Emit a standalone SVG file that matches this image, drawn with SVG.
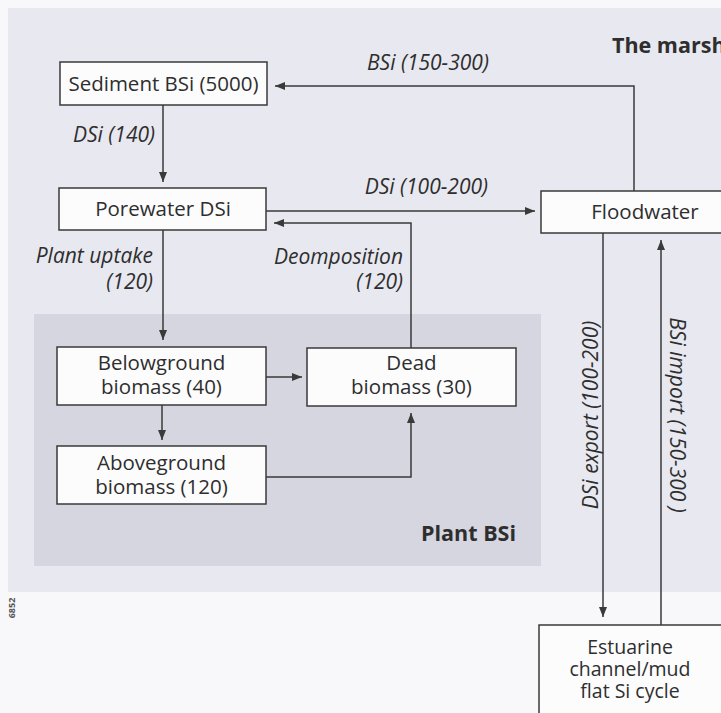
<svg xmlns="http://www.w3.org/2000/svg" width="721" height="713" viewBox="0 0 721 713">
<style>
.box{fill:#fcfcfd;stroke:#3a3a3a;stroke-width:1.5}
.t{font-family:"Open Sans","Noto Sans","Liberation Sans",sans-serif;font-size:20.5px;fill:#2e2e2e}
.c{text-anchor:middle}
.e{text-anchor:end}
.i{font-style:italic;font-size:21px}
.b{font-weight:bold;font-size:21.5px}
.s{font-size:19.5px}
.tiny{font-size:9px;font-weight:bold;fill:#555}
.conn path{fill:none;stroke:#3a3a3a;stroke-width:1.5;marker-end:url(#ah)}
</style>
<defs>
<marker id="ah" markerUnits="userSpaceOnUse" markerWidth="10" markerHeight="8" refX="10" refY="4" orient="auto">
<path d="M0,0 L10,4 L0,8 z" fill="#3a3a3a"/>
</marker>
</defs>
<rect x="0" y="0" width="721" height="713" fill="#f8f8fb"/>
<rect x="8" y="8" width="713" height="584" fill="#e8e8f0"/>
<g id="plant-bsi">
<rect x="34" y="314" width="507" height="252" fill="#d6d6e1"/>
<text class="t b e" x="516" y="541">Plant BSi</text>
</g>
<text class="t b" x="612" y="53">The marsh</text>
<text class="t tiny c" transform="translate(15,608) rotate(-90)">6852</text>
<g id="connectors" class="conn">
<path d="M163,105 V182"/>
<path d="M634,191 V86 H275"/>
<path d="M266,211 H535"/>
<path d="M411,348 V223 H274"/>
<path d="M163,230 V340"/>
<path d="M266,377 H302"/>
<path d="M162,405 V440"/>
<path d="M266,477 H411 V413"/>
<path d="M603,233 V617"/>
<path d="M661,625 V240"/>
</g>
<g id="labels">
<text class="t i" x="367" y="70">BSi (150-300)</text>
<text class="t i e" x="488" y="194">DSi (100-200)</text>
<text class="t i e" x="155" y="142">DSi (140)</text>
<text class="t i e" x="153" y="263">Plant uptake</text>
<text class="t i e" x="153" y="289">(120)</text>
<text class="t i e" x="403" y="264">Deomposition</text>
<text class="t i e" x="403" y="289">(120)</text>
<text class="t i c" transform="translate(598,415) rotate(-90)">DSi export (100-200)</text>
<text class="t i c" transform="translate(670,415) rotate(90)">BSi import (150-300 )</text>
</g>
<g id="sediment">
<rect class="box" x="60" y="62" width="207" height="43"/>
<text class="t c" x="163.5" y="91">Sediment BSi (5000)</text>
</g>
<g id="porewater">
<rect class="box" x="59" y="188" width="207" height="42"/>
<text class="t c" x="163" y="216">Porewater DSi</text>
</g>
<g id="floodwater">
<rect class="box" x="541" y="191" width="200" height="42"/>
<text class="t c" x="645" y="219">Floodwater</text>
</g>
<g id="belowground">
<rect class="box" x="57" y="347" width="209" height="58"/>
<text class="t c" x="161.5" y="370">Belowground</text>
<text class="t c" x="161.5" y="394">biomass (40)</text>
</g>
<g id="dead">
<rect class="box" x="307" y="348" width="209" height="58"/>
<text class="t c" x="411.5" y="370">Dead</text>
<text class="t c" x="411.5" y="394">biomass (30)</text>
</g>
<g id="aboveground">
<rect class="box" x="57" y="446" width="209" height="58"/>
<text class="t c" x="161.5" y="470">Aboveground</text>
<text class="t c" x="161.5" y="494">biomass (120)</text>
</g>
<g id="estuarine">
<rect class="box" x="539" y="625" width="200" height="100"/>
<text class="t c s" x="630" y="654">Estuarine</text>
<text class="t c s" x="630" y="676">channel/mud</text>
<text class="t c s" x="630" y="698">flat Si cycle</text>
</g>
</svg>
